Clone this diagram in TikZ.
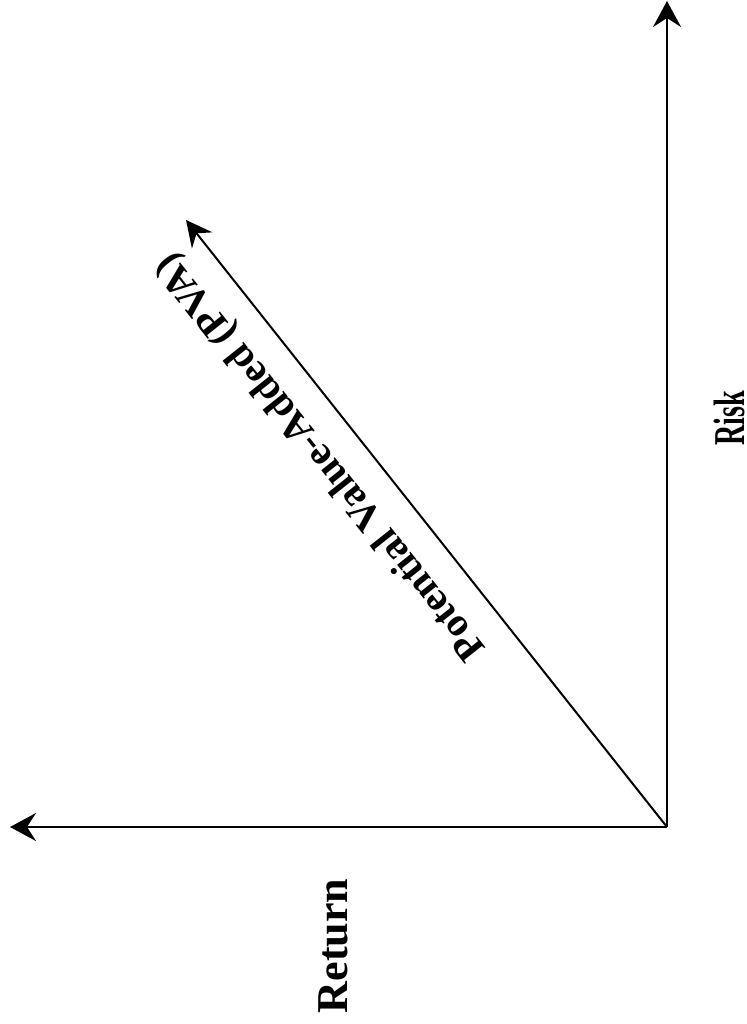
\documentclass[tikz,border=0pt]{standalone}
\usepackage{fontspec}
\setmainfont{Liberation Serif}
\usetikzlibrary{arrows.meta}
\tikzset{
  axisline/.style={line width=2.4pt, -{Stealth[length=26pt, width=28pt, inset=9pt]}},
  diagline/.style={line width=2pt, -{Stealth[length=26pt, width=26pt, inset=9pt]}},
  biglabel/.style={font=\bfseries\fontsize{44}{50}\selectfont, inner sep=0pt},
  pvalabel/.style={font=\bfseries\fontsize{40.5}{46}\selectfont, inner sep=0pt}
}
\begin{document}
\begin{tikzpicture}[x=1pt,y=-1pt]
\useasboundingbox (0,0) rectangle (746,1024);
\coordinate (O) at (667,827);
\coordinate (X) at (10,827);
\coordinate (Y) at (667,1);
\coordinate (D) at (186,220);
\draw[axisline] (O) -- (X);
\draw[axisline] (O) -- (Y);
\draw[diagline] (O) -- (D);
\node[biglabel, rotate=90] (ret) at (333,946) {Return};
\node[biglabel, rotate=90, xscale=0.64] (risk) at (729,418) {Risk};
\node[pvalabel, rotate=128.4] (pva) at (322,456) {Potential Value-Added (PVA)};
\end{tikzpicture}
\end{document}
